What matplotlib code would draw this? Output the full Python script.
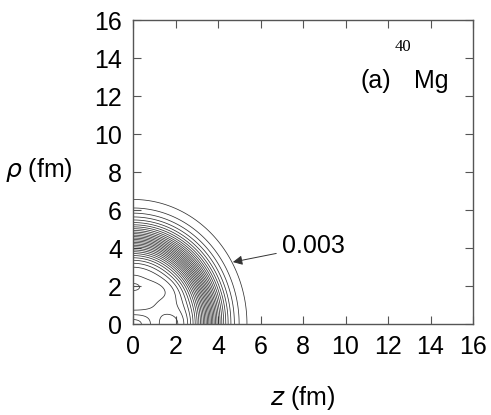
import numpy as np
import matplotlib
matplotlib.use("Agg")
import matplotlib.pyplot as plt

plt.rcParams['font.family'] = ['Liberation Sans', 'DejaVu Sans']

# density model parameters
rho0 = 0.10           # central density (fm^-3)
R_rho = 4.4           # half-density radius along rho (fm)
R_z = 3.6             # half-density radius along z (fm)
diff = 0.62           # diffuseness (fm)
dip_amp = -0.010      # small central structure
dip_w = 2.0
levels = [0.003 + 0.003 * k for k in range(32)]

ticks = [0, 2, 4, 6, 8, 10, 12, 14, 16]
label_value = "0.003"

z = np.linspace(0, 16, 500)
r = np.linspace(0, 16, 500)
Z, Rr = np.meshgrid(z, r)
reff = np.sqrt((Z * R_rho / R_z) ** 2 + Rr ** 2)
dens = rho0 / (1 + np.exp((reff - R_rho) / diff))
dens += dip_amp * np.exp(-(Z ** 2 + Rr ** 2) / dip_w ** 2) * (1 + 0.4 * np.cos(3.0 * Rr) * np.cos(1.5 * Z))

fig = plt.figure(figsize=(4.91, 4.15), dpi=100)
ax = fig.add_axes([133 / 491, 1 - 324 / 415, 340 / 491, 304 / 415])
ax.contour(Z, Rr, dens, levels=levels, colors='#333333', linewidths=0.55)

ax.set_xlim(0, 16)
ax.set_ylim(0, 16)
ax.set_xticks(ticks)
ax.set_yticks(ticks)
ax.tick_params(direction='in', top=True, right=True, labelsize=18, length=6,
               width=0.8, color='#555555', pad=8)
for s in ax.spines.values():
    s.set_color('#555555')
    s.set_linewidth(1.0)

fig.text(5 / 491, 1 - 170 / 415, r'$\rho$ (fm)', fontsize=18, va='center', ha='left')
fig.text(303 / 491, 1 - 398 / 415, r'$z$ (fm)', fontsize=18, va='center', ha='center')

ax.text(10.7, 12.8, '(a)', fontsize=18, va='center', ha='left')
ax.text(12.3, 14.6, '40', fontsize=12, va='center', ha='left', family='Liberation Serif')
ax.text(13.2, 12.8, 'Mg', fontsize=18, va='center', ha='left')

ax.annotate(label_value, xy=(4.7, 3.26), xytext=(7.0, 4.1), fontsize=18,
            va='center', ha='left',
            arrowprops=dict(arrowstyle='-|>', color='#333333', lw=0.7,
                            mutation_scale=14, shrinkA=2, shrinkB=0))

fig.savefig('out.png', dpi=100)
